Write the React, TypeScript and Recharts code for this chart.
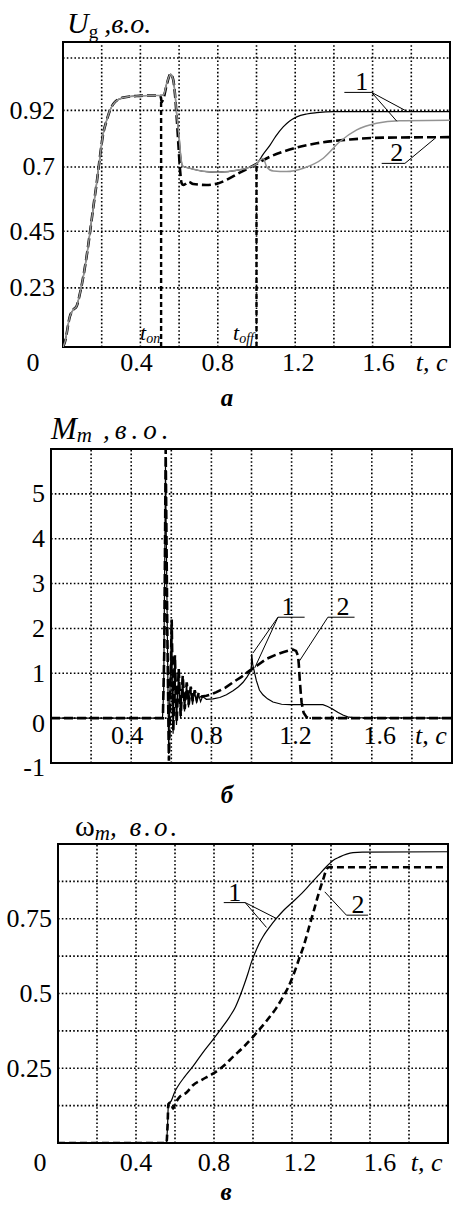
import React from 'react';
import { LineChart, Line, XAxis, YAxis, ReferenceLine, ReferenceArea, ReferenceDot } from 'recharts';

type Pt = [number, number];
const FONT = '"Liberation Serif", "Times New Roman", serif';

// ---------- shared time axis ----------
const tDomain: [number, number] = [0, 2];
const gridT = [0.2, 0.4, 0.6, 0.8, 1.0, 1.2, 1.4, 1.6, 1.8];

// ---------- (а) U_g ----------
const ugRise: Pt[] = [
  [0, 0], [0.01, 0.02], [0.036, 0.12], [0.053, 0.145], [0.07, 0.158], [0.088, 0.21], [0.105, 0.274],
  [0.122, 0.352], [0.139, 0.443], [0.157, 0.546], [0.174, 0.637], [0.191, 0.74], [0.208, 0.83],
  [0.226, 0.882], [0.243, 0.921], [0.269, 0.953], [0.312, 0.97], [0.38, 0.976], [0.45, 0.978], [0.5, 0.978],
];
const ugMid: Pt[] = [
  [0.519, 0.98], [0.536, 1.025], [0.556, 1.061], [0.57, 1.038], [0.579, 0.986], [0.587, 0.908],
  [0.6, 0.818], [0.609, 0.74], [0.617, 0.704], [0.655, 0.695], [0.741, 0.682], [0.803, 0.68],
  [0.906, 0.688], [0.96, 0.698], [1.0, 0.712],
];
const ugGrayTail: Pt[] = [
  [1.02, 0.728], [1.035, 0.733], [1.053, 0.7], [1.087, 0.684], [1.156, 0.682], [1.242, 0.695],
  [1.345, 0.734], [1.43, 0.798], [1.518, 0.844], [1.62, 0.87], [1.74, 0.88], [2.0, 0.882],
];
const ugBlackTail: Pt[] = [
  [1.035, 0.75], [1.07, 0.785], [1.1, 0.82], [1.138, 0.856], [1.17, 0.878], [1.208, 0.895],
  [1.26, 0.906], [1.311, 0.911], [1.4, 0.915], [2.0, 0.915],
];
const ugDashTail: Pt[] = [
  [0.506, 0.97], [0.51, 0.953], [0.519, 0.965], [0.536, 1.02], [0.556, 1.061], [0.57, 1.038],
  [0.579, 0.98], [0.587, 0.9], [0.596, 0.792], [0.605, 0.688], [0.613, 0.637], [0.622, 0.63],
  [0.635, 0.635], [0.648, 0.643], [0.673, 0.634], [0.741, 0.63], [0.8, 0.636], [0.85, 0.652],
  [0.906, 0.675], [0.95, 0.692], [1.0, 0.712], [1.07, 0.74], [1.19, 0.772], [1.311, 0.792],
  [1.483, 0.807], [1.655, 0.814], [2.0, 0.816],
];
const ugDomainY: [number, number] = [0, 1.186];
const ugTicksY = [0.23, 0.45, 0.7, 0.92];
const ugGridY = [0.23, 0.45, 0.7, 0.92, 1.124];
const ugTicksX = [0, 0.4, 0.8, 1.2, 1.6, 1.89];
const ugLabelsX = ['0', '0.4', '0.8', '1.2', '1.6', 't, c'];
const tOn = 0.507;
const tOnTop = 0.955;
const tOff = 1.0;
const tOffTop = 0.712;

// ---------- (б) M_m ----------
const mmSolid: Pt[] = [
  [0, 0], [0.556, 0], [0.562, 0.6], [0.571, 5.6], [0.579, 2.4], [0.587, -0.8], [0.594, 0.7],
  [0.601, 2.1], [0.609, -0.35], [0.617, 1.35], [0.626, -0.15], [0.636, 1.05], [0.646, 0.0],
  [0.656, 0.9], [0.666, 0.15], [0.676, 0.76], [0.686, 0.24], [0.696, 0.68], [0.706, 0.3],
  [0.716, 0.6], [0.726, 0.34], [0.736, 0.53], [0.746, 0.37], [0.756, 0.48], [0.775, 0.42],
  [0.808, 0.43], [0.842, 0.46], [0.875, 0.52], [0.908, 0.61], [0.935, 0.7], [0.958, 0.8],
  [0.978, 0.92], [0.993, 1.03], [0.999, 1.08], [1.001, 1.43], [1.006, 1.2], [1.024, 0.84],
  [1.04, 0.62], [1.057, 0.52], [1.08, 0.43], [1.107, 0.36], [1.15, 0.31], [1.19, 0.3],
  [1.3, 0.3], [1.356, 0.3], [1.38, 0.26], [1.406, 0.2], [1.43, 0.13], [1.456, 0.07],
  [1.48, 0.03], [1.506, 0.01], [2.0, 0],
];
const mmDash: Pt[] = [
  [0, 0], [0.558, 0], [0.565, 1.5], [0.572, 6.0], [0.58, 2.0], [0.588, -0.95], [0.595, 0.5],
  [0.602, 2.2], [0.61, -0.3], [0.618, 1.4], [0.627, -0.1], [0.637, 1.1], [0.647, 0.05],
  [0.657, 0.95], [0.667, 0.2], [0.677, 0.8], [0.687, 0.3], [0.697, 0.7], [0.707, 0.38],
  [0.717, 0.62], [0.727, 0.42], [0.737, 0.57], [0.75, 0.48], [0.775, 0.5], [0.8, 0.53],
  [0.825, 0.58], [0.87, 0.68], [0.908, 0.8], [0.95, 0.92], [0.991, 1.06], [1.03, 1.18],
  [1.074, 1.32], [1.12, 1.41], [1.157, 1.47], [1.19, 1.51], [1.207, 1.53], [1.222, 1.5],
  [1.232, 1.39], [1.236, 1.2], [1.24, 0.9], [1.245, 0.6], [1.25, 0.35], [1.26, 0.12],
  [1.275, 0.02], [1.3, 0], [2.0, 0],
];
const mmDomainY: [number, number] = [-1, 6];
const mmTicksY = [-1, 0, 1, 2, 3, 4, 5];
const mmGridY = [0, 1, 2, 3, 4, 5];
const mmTicksX = [0.4, 0.8, 1.2, 1.6, 1.89];
const mmLabelsX = ['0.4', '0.8', '1.2', '1.6', 't, c'];

// ---------- (в) ω_m ----------
const wmSolid: Pt[] = [
  [0, 0], [0.556, 0], [0.562, 0.06], [0.566, 0.13], [0.58, 0.14], [0.598, 0.17], [0.615, 0.19],
  [0.65, 0.222], [0.692, 0.256], [0.74, 0.3], [0.795, 0.346], [0.84, 0.385], [0.88, 0.422],
  [0.91, 0.455], [0.932, 0.489], [0.955, 0.53], [0.974, 0.567], [0.992, 0.605], [1.009, 0.634],
  [1.03, 0.665], [1.051, 0.69], [1.085, 0.722], [1.12, 0.751], [1.16, 0.78], [1.205, 0.807],
  [1.25, 0.835], [1.29, 0.863], [1.335, 0.895], [1.376, 0.924], [1.41, 0.945], [1.445, 0.957],
  [1.48, 0.966], [1.513, 0.971], [1.56, 0.973], [2.0, 0.974],
];
const wmDash: Pt[] = [
  [0, 0], [0.556, 0], [0.562, 0.06], [0.566, 0.13], [0.578, 0.135], [0.59, 0.115], [0.6, 0.13],
  [0.624, 0.154], [0.658, 0.168], [0.692, 0.193], [0.74, 0.212], [0.795, 0.232], [0.85, 0.258],
  [0.897, 0.288], [0.95, 0.32], [1.0, 0.355], [1.04, 0.385], [1.086, 0.422], [1.12, 0.452],
  [1.154, 0.489], [1.18, 0.52], [1.197, 0.545], [1.22, 0.585], [1.24, 0.623], [1.258, 0.655],
  [1.274, 0.69], [1.29, 0.728], [1.308, 0.768], [1.325, 0.808], [1.342, 0.846], [1.36, 0.882],
  [1.376, 0.913], [1.39, 0.922], [2.0, 0.922],
];
const wmDomainY: [number, number] = [0, 1];
const wmTicksY = [0.25, 0.5, 0.75];
const wmGridY = [0.125, 0.25, 0.375, 0.5, 0.625, 0.75, 0.875];
const wmTicksX = [0, 0.4, 0.8, 1.2, 1.6, 1.89];
const wmLabelsX = ['0', '0.4', '0.8', '1.2', '1.6', 't, c'];

// ---------- annotations (data coordinates) ----------
type Seg = [Pt, Pt];
const ugNotes = [{ t: 1.544, v: 0.99, text: '1' }, { t: 1.725, v: 0.714, text: '2' }];
const ugLeaders: Seg[] = [
  [[1.454, 0.99], [1.595, 0.99]], [[1.595, 0.99], [1.776, 0.917]], [[1.595, 0.99], [1.725, 0.878]],
  [[1.647, 0.714], [1.767, 0.714]], [[1.767, 0.714], [1.922, 0.811]],
];
const mmNotes = [{ t: 1.182, v: 2.25, text: '1' }, { t: 1.456, v: 2.25, text: '2' }];
const mmLeaders: Seg[] = [
  [[1.132, 2.25], [1.265, 2.25]], [[1.132, 2.25], [1.007, 1.45]], [[1.132, 2.25], [1.016, 1.12]],
  [[1.381, 2.25], [1.514, 2.25]], [[1.381, 2.25], [1.24, 1.28]],
];
const wmNotes = [{ t: 0.906, v: 0.804, text: '1' }, { t: 1.538, v: 0.762, text: '2' }];
const wmLeaders: Seg[] = [
  [[0.85, 0.804], [0.96, 0.804]], [[0.96, 0.804], [1.12, 0.751]], [[0.96, 0.804], [1.069, 0.721]],
  [[1.479, 0.762], [1.59, 0.762]], [[1.479, 0.762], [1.368, 0.84]],
];

const toRows = (pts: Pt[]) => pts.map(([t, v]) => ({ t, v }));

type Cfg = {
  key: string;
  top: number;
  height: number;
  margin: { top: number; right: number; bottom: number; left: number };
  yWidth: number;
  xHeight: number;
  yDomain: [number, number];
  yTicks: number[];
  yShift: Record<string, number>;
  yGap: number;
  gridY: number[];
  xTicks: number[];
  xLabels: string[];
  xShift: number[];
  xDy: number;
  leaders: Seg[];
  notes: { t: number; v: number; text: string }[];
  items: React.ReactNode[];
};

const GRID = { stroke: '#000', strokeWidth: 1.6, strokeDasharray: '1.6 2.2' };

function panel(c: Cfg) {
  const xTick = (p: any) => {
    const i = c.xTicks.findIndex((v) => Math.abs(v - p.payload.value) < 1e-6);
    const label = c.xLabels[i] ?? '';
    const italic = label.startsWith('t');
    return (
      <text x={p.x + (c.xShift[i] ?? 0)} y={p.y + c.xDy} textAnchor="middle" dominantBaseline="central"
        fontFamily={FONT} fontSize={26} fontStyle={italic ? 'italic' : 'normal'} fill="#000">
        {label}
      </text>
    );
  };
  const yTick = (p: any) => {
    const v = p.payload.value;
    return (
      <text x={p.x - c.yGap} y={p.y + (c.yShift[String(v)] ?? 0)} textAnchor="end" dominantBaseline="central"
        fontFamily={FONT} fontSize={26} fill="#000">
        {String(v)}
      </text>
    );
  };
  const [y0, y1] = c.yDomain;
  return (
    <div key={c.key} style={{ position: 'absolute', left: 0, top: c.top }}>
      <LineChart width={453} height={c.height} margin={c.margin}>
        <XAxis type="number" dataKey="t" domain={tDomain} ticks={c.xTicks} interval={0} allowDataOverflow
          axisLine={false} tickLine={false} tickSize={0} tickMargin={0} height={c.xHeight} tick={xTick} />
        <YAxis type="number" domain={c.yDomain} ticks={c.yTicks} interval={0} allowDataOverflow
          axisLine={false} tickLine={false} tickSize={0} tickMargin={0} width={c.yWidth} tick={yTick} />
        {gridT.map((t) => (
          <ReferenceLine key={'gx' + t} x={t} {...GRID} />
        ))}
        {c.gridY.map((v) => (
          <ReferenceLine key={'gy' + v} y={v} {...GRID} />
        ))}
        {c.items}
        {c.leaders.map((s, i) => (
          <ReferenceLine key={'ld' + i} segment={[{ x: s[0][0], y: s[0][1] }, { x: s[1][0], y: s[1][1] }]}
            stroke="#000" strokeWidth={1} />
        ))}
        {c.notes.map((n, i) => (
          <ReferenceDot key={'nt' + i} x={n.t} y={n.v} r={0} fill="none" stroke="none"
            label={(p: any) => {
              const vb = p.viewBox ?? {};
              return (
                <text x={(vb.x ?? 0) + (vb.width ?? 0) / 2} y={(vb.y ?? 0) - 2} textAnchor="middle"
                  fontFamily={FONT} fontSize={26} fill="#000">{n.text}</text>
              );
            }} />
        ))}
        <ReferenceArea x1={tDomain[0]} x2={tDomain[1]} y1={y0} y2={y1} fill="none" fillOpacity={0}
          stroke="#000" strokeWidth={2} ifOverflow="visible" />
      </LineChart>
    </div>
  );
}

const subLabel = (x: number, y: number, text: string) => (
  <ReferenceDot key={'sub' + text} x={x} y={y} r={0} fill="none" stroke="none"
    label={(p: any) => {
      const vb = p.viewBox ?? {};
      return (
        <text x={vb.x ?? 0} y={vb.y ?? 0} fontFamily={FONT} fill="#000" fontStyle="italic">
          <tspan fontSize={22}>t</tspan>
          <tspan fontSize={14} dy={3}>{text}</tspan>
        </text>
      );
    }} />
);

export default function App() {
  const ugGray = toRows([...ugRise, ...ugMid, ...ugGrayTail]);
  const ugBlack = toRows([...ugRise, ...ugMid, ...ugBlackTail]);
  const ugDash = toRows([...ugRise, ...ugDashTail]);
  const dashStyle = { stroke: '#000', strokeWidth: 2.6, strokeDasharray: '9 4' };

  const panels = [
    panel({
      key: 'a', top: 0, height: 380, margin: { top: 42, right: 3, bottom: 0, left: 0 },
      yWidth: 63, xHeight: 33, yDomain: ugDomainY, yTicks: ugTicksY, yShift: {}, yGap: 8,
      gridY: ugGridY, xTicks: ugTicksX, xLabels: ugLabelsX, xShift: [-30, -4, 0, 3, 6, 3], xDy: 15,
      leaders: ugLeaders, notes: ugNotes,
      items: [
        <ReferenceLine key="ton" segment={[{ x: tOn, y: 0 }, { x: tOn, y: tOnTop }]} stroke="#000"
          strokeWidth={2.4} strokeDasharray="5 3" />,
        <ReferenceLine key="toff" segment={[{ x: tOff, y: 0 }, { x: tOff, y: tOffTop }]} stroke="#000"
          strokeWidth={2.4} strokeDasharray="5 3" />,
        <Line key="d" data={ugDash} dataKey="v" type="monotoneX" {...dashStyle} dot={false} activeDot={false} isAnimationActive={false} />,
        <Line key="b" data={ugBlack} dataKey="v" type="monotoneX" stroke="#000" strokeWidth={1.2} dot={false} activeDot={false} isAnimationActive={false} />,
        <Line key="g" data={ugGray} dataKey="v" type="monotoneX" stroke="#939393" strokeWidth={1.5} dot={false} activeDot={false} isAnimationActive={false} />,
        subLabel(0.398, 0.028, 'on'),
        subLabel(0.879, 0.028, 'off'),
      ],
    }),
    panel({
      key: 'b', top: 400, height: 385, margin: { top: 49, right: 1, bottom: 0, left: 0 },
      yWidth: 51, xHeight: 22, yDomain: mmDomainY, yTicks: mmTicksY, yShift: { '0': 5, '-1': 4 }, yGap: 6,
      gridY: mmGridY, xTicks: mmTicksX, xLabels: mmLabelsX, xShift: [-4, -5, 4, 8, 1], xDy: -28,
      leaders: mmLeaders, notes: mmNotes,
      items: [
        <Line key="s" data={toRows(mmSolid)} dataKey="v" type="linear" stroke="#000" strokeWidth={1.2} dot={false} activeDot={false} isAnimationActive={false} />,
        <Line key="d" data={toRows(mmDash)} dataKey="v" type="linear" {...dashStyle} dot={false} activeDot={false} isAnimationActive={false} />,
      ],
    }),
    panel({
      key: 'c', top: 800, height: 400, margin: { top: 44, right: 5, bottom: 0, left: 0 },
      yWidth: 58, xHeight: 57, yDomain: wmDomainY, yTicks: wmTicksY, yShift: {}, yGap: 6,
      gridY: wmGridY, xTicks: wmTicksX, xLabels: wmLabelsX, xShift: [-18, 0, 0, 8, 10, 0], xDy: 19,
      leaders: wmLeaders, notes: wmNotes,
      items: [
        <Line key="s" data={toRows(wmSolid)} dataKey="v" type="monotoneX" stroke="#000" strokeWidth={1.2} dot={false} activeDot={false} isAnimationActive={false} />,
        <Line key="d" data={toRows(wmDash)} dataKey="v" type="monotoneX" stroke="#000" strokeWidth={2.6} strokeDasharray="7 4" dot={false} activeDot={false} isAnimationActive={false} />,
      ],
    }),
  ];

  return (
    <div style={{ position: 'absolute', left: 0, top: 0, width: 453, height: 1207, background: '#fff', overflow: 'hidden' }}>
      {panels}
      <svg width={453} height={1207} style={{ position: 'absolute', left: 0, top: 0, pointerEvents: 'none' }}>
        <text x={67} y={33} fontFamily={FONT} fill="#000">
          <tspan fontSize={30} fontStyle="italic">U</tspan>
          <tspan fontSize={19} dy={5}>g</tspan>
          <tspan fontSize={28} fontStyle="italic" dy={-5} dx={6}>,в.о.</tspan>
        </text>
        <text x={51} y={439} fontFamily={FONT} fill="#000">
          <tspan fontSize={31} fontStyle="italic">M</tspan>
          <tspan fontSize={21} fontStyle="italic" dy={3}>m</tspan>
          <tspan fontSize={27} fontStyle="italic" dy={-3} dx={11} letterSpacing={5}>,в.о.</tspan>
        </text>
        <text x={75} y={836} fontFamily={FONT} fill="#000">
          <tspan fontSize={30}>ω</tspan>
          <tspan fontSize={21} fontStyle="italic" dy={4}>m</tspan>
          <tspan fontSize={27} fontStyle="italic" dy={-4} letterSpacing={3}>, в.о.</tspan>
        </text>
        <text x={227} y={406} textAnchor="middle" fontFamily={FONT} fontSize={25} fontWeight="bold" fontStyle="italic" fill="#000">а</text>
        <text x={227} y={803} textAnchor="middle" fontFamily={FONT} fontSize={25} fontWeight="bold" fontStyle="italic" fill="#000">б</text>
        <text x={226} y={1200} textAnchor="middle" fontFamily={FONT} fontSize={25} fontWeight="bold" fontStyle="italic" fill="#000">в</text>
      </svg>
    </div>
  );
}
